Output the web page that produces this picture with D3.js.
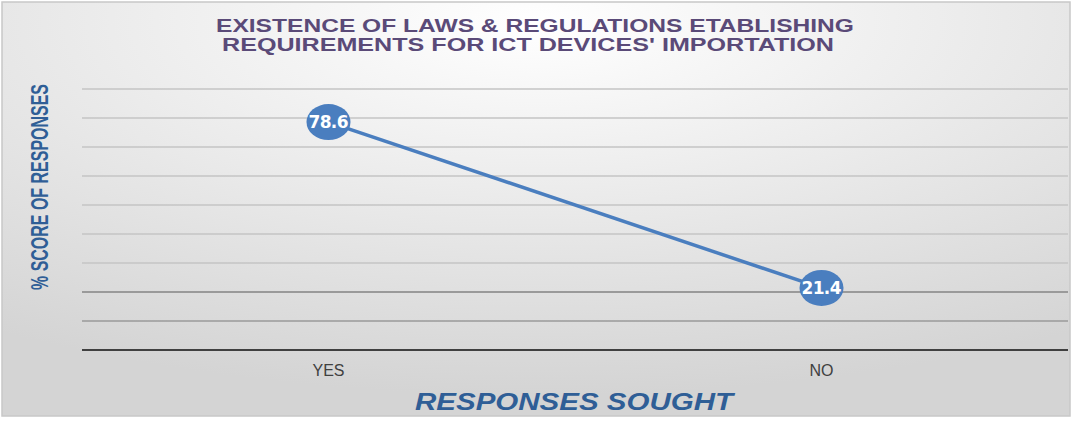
<!DOCTYPE html>
<html lang="en">
<head>
<meta charset="UTF-8">
<title>ICT Devices Importation</title>
<script src="https://d3js.org/d3.v7.min.js"></script>
<style>
  body { margin: 0; background: #fff; }
  text { font-family: "Liberation Sans Narrow", "Liberation Sans", Arial, sans-serif; }
</style>
</head>
<body>
<svg width="1073" height="421"></svg>
<script>
const categories = ["YES", "NO"];
const values = [78.6, 21.4];
const yTicks = [0, 10, 20, 30, 40, 50, 60, 70, 80, 90];

const svg = d3.select("svg");

// background gradient
const defs = svg.append("defs");
const grad = defs.append("radialGradient").attr("id", "bg")
  .attr("cx", "50%").attr("cy", "5%").attr("r", "90%");
grad.append("stop").attr("offset", "0%").attr("stop-color", "#ffffff");
grad.append("stop").attr("offset", "100%").attr("stop-color", "#d4d4d4");

svg.append("rect").attr("x", 2).attr("y", 2).attr("width", 1068).attr("height", 414)
  .attr("fill", "url(#bg)").attr("stroke", "#c8c8c8").attr("stroke-width", 1.5);

const x = d3.scaleBand().domain(categories).range([82, 1068]);
const y = d3.scaleLinear().domain([0, 90]).range([350, 89]);

// gridlines
svg.append("g").selectAll("line").data(yTicks.slice(1)).join("line")
  .attr("x1", 82).attr("x2", 1068)
  .attr("y1", d => y(d)).attr("y2", d => y(d))
  .attr("stroke", d => (d === 10 || d === 20) ? "#9a9a9a" : "#c4c4c4")
  .attr("stroke-width", d => (d === 20) ? 2 : 1.3);

// axis line
svg.append("line").attr("x1", 82).attr("x2", 1068)
  .attr("y1", y(0)).attr("y2", y(0))
  .attr("stroke", "#404040").attr("stroke-width", 2);

// category labels
svg.append("g").selectAll("text").data(categories).join("text")
  .attr("x", d => x(d) + x.bandwidth() / 2).attr("y", 376)
  .attr("text-anchor", "middle").attr("font-size", 16).attr("fill", "#404040")
  .text(d => d);

// line
const line = d3.line()
  .x((d, i) => x(categories[i]) + x.bandwidth() / 2)
  .y(d => y(d));
svg.append("path").datum(values).attr("d", line)
  .attr("fill", "none").attr("stroke", "#4a7ebf").attr("stroke-width", 3.5);

// markers
const pts = svg.append("g").selectAll("g").data(values).join("g")
  .attr("transform", (d, i) => `translate(${x(categories[i]) + x.bandwidth() / 2},${y(d)})`);
pts.append("ellipse").attr("rx", 22).attr("ry", 18).attr("fill", "#4a7ebf");
pts.append("text").attr("text-anchor", "middle").attr("dy", 6)
  .attr("font-size", 17).attr("font-weight", "bold").attr("fill", "#fff")
  .style("font-family", "'DejaVu Sans', sans-serif")
  .attr("textLength", 40)
  .text(d => d);

// title
svg.append("text").attr("x", 216).attr("y", 32)
  .attr("font-size", 19).attr("font-weight", "bold").attr("fill", "#5a4a78")
  .attr("textLength", 638).attr("lengthAdjust", "spacingAndGlyphs")
  .text("EXISTENCE OF LAWS & REGULATIONS ETABLISHING");
svg.append("text").attr("x", 222).attr("y", 51)
  .attr("font-size", 19).attr("font-weight", "bold").attr("fill", "#5a4a78")
  .attr("textLength", 612).attr("lengthAdjust", "spacingAndGlyphs")
  .text("REQUIREMENTS FOR ICT DEVICES' IMPORTATION");

// axis titles
svg.append("text").attr("transform", "translate(48,290) rotate(-90)")
  .attr("font-size", 23).attr("font-weight", "bold")
  .attr("textLength", 206).attr("lengthAdjust", "spacingAndGlyphs")
  .attr("fill", "#2f5e96").text("% SCORE OF RESPONSES");
svg.append("text").attr("x", 415).attr("y", 410)
  .attr("font-size", 24).attr("font-weight", "bold").attr("font-style", "italic")
  .attr("textLength", 318).attr("lengthAdjust", "spacingAndGlyphs")
  .attr("fill", "#2f5e96").text("RESPONSES SOUGHT");
</script>
</body>
</html>
